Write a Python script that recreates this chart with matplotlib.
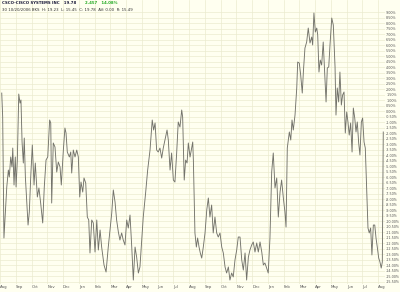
import matplotlib
matplotlib.use("Agg")
import matplotlib.pyplot as plt
import numpy as np

# months since start (Aug = 0) and percent change
months = [0.11, 0.17, 0.25, 0.43, 0.53, 0.59, 0.68, 0.76, 0.81, 0.89, 0.97, 1.02, 1.10, 1.19, 1.27,
          1.33, 1.40, 1.48, 1.54, 1.61, 1.69, 1.78, 1.86, 1.95, 2.05, 2.16, 2.24, 2.37, 2.47, 2.58,
          2.71, 2.81, 2.92, 3.03, 3.15, 3.22, 3.28, 3.38, 3.49, 3.60, 3.70, 3.81, 3.89, 4.02, 4.12,
          4.19, 4.27, 4.40, 4.49, 4.55, 4.65, 4.76, 4.87, 4.97, 5.06, 5.14, 5.25, 5.33, 5.44, 5.54,
          5.63, 5.71, 5.82, 5.92, 6.03, 6.14, 6.24, 6.35, 6.45, 6.60, 6.73, 6.87, 7.09, 7.19, 7.30,
          7.40, 7.51, 7.61, 7.72, 7.82, 7.93, 8.04, 8.14, 8.25, 8.36, 8.46, 8.57, 8.67, 8.78, 8.88,
          8.99, 9.09, 9.24, 9.37, 9.52, 9.66, 9.75, 9.84, 9.94, 10.04, 10.15, 10.26, 10.36, 10.47,
          10.60, 10.68, 10.79, 10.89, 11.00, 11.10, 11.21, 11.31, 11.42, 11.53, 11.59, 11.69, 11.78,
          11.87, 11.95, 12.06, 12.16, 12.23, 12.27, 12.37, 12.46, 12.54, 12.63, 12.71, 12.80, 12.90,
          13.01, 13.12, 13.22, 13.32, 13.43, 13.53, 13.64, 13.75, 13.85, 13.96, 14.07, 14.17, 14.28,
          14.38, 14.49, 14.59, 14.70, 14.80, 14.91, 15.02, 15.12, 15.23, 15.34, 15.44, 15.55, 15.65,
          15.76, 15.86, 15.97, 16.07, 16.18, 16.29, 16.39, 16.50, 16.61, 16.71, 16.81, 16.92, 17.02,
          17.13, 17.24, 17.34, 17.45, 17.56, 17.66, 17.77, 17.87, 17.98, 18.08, 18.15, 18.23, 18.36,
          18.45, 18.53, 18.61, 18.72, 18.83, 18.89, 18.99, 19.08, 19.18, 19.25, 19.35, 19.46, 19.56,
          19.67, 19.78, 19.84, 19.92, 20.01, 20.10, 20.16, 20.24, 20.32, 20.41, 20.51, 20.62, 20.69,
          20.77, 20.86, 20.94, 21.05, 21.15, 21.26, 21.32, 21.40, 21.49, 21.57, 21.66, 21.74, 21.83,
          21.91, 22.00, 22.08, 22.16, 22.25, 22.34, 22.42, 22.51, 22.59, 22.67, 22.76, 22.84, 22.93,
          23.01, 23.10, 23.18, 23.27, 23.35, 23.43, 23.52, 23.60, 23.69, 23.78, 23.86, 23.94, 24.03,
          24.11, 24.19, 24.26, 24.32]
pct = [1.66, -0.52, -11.52, -6.88, -5.34, -5.97, -4.15, -5.06, -3.34, -6.70, -4.15, -6.88, -4.43,
       1.57, 0.75, 1.03, -2.79, -4.70, -2.43, -5.97, -8.06, -10.34, -9.15, -5.97, -3.06, -6.70,
       -4.70, -7.79, -6.97, -8.34, -10.15, -6.88, -4.43, -4.15, -0.79, -1.06, -8.34, -2.88, -3.25,
       -5.52, -4.61, -5.06, -6.70, -3.52, -1.52, -1.97, -3.70, -4.15, -3.70, -5.61, -3.52, -4.15,
       -3.52, -4.15, -7.79, -6.43, -7.34, -6.06, -6.52, -9.61, -9.88, -12.88, -9.88, -10.15, -12.79,
       -9.88, -12.61, -10.79, -12.34, -13.97, -14.61, -12.34, -9.25, -7.15, -8.25, -9.88, -10.97,
       -11.70, -11.06, -11.70, -12.15, -9.88, -10.61, -9.43, -12.34, -15.34, -12.34, -13.25, -14.70,
       -14.15, -11.70, -9.61, -7.42, -5.34, -3.52, -0.79, -1.70, -1.06, -3.52, -3.70, -3.34, -4.25,
       -3.34, -2.61, -1.70, -2.61, -5.34, -3.79, -6.25, -6.43, -3.79, -0.97, -1.43, 0.12, -0.52,
       -6.25, -4.43, -4.70, -2.88, -4.15, -3.34, -2.79, -4.43, -11.06, -12.34, -11.52, -12.34,
       -12.88, -13.34, -12.34, -11.06, -8.97, -7.88, -9.61, -8.52, -11.06, -9.61, -11.06, -11.43,
       -11.06, -12.34, -12.88, -14.15, -14.70, -14.15, -15.34, -14.70, -15.06, -13.52, -12.61,
       -11.43, -11.43, -13.52, -14.43, -12.88, -15.34, -13.25, -12.61, -12.15, -11.88, -12.79,
       -11.97, -12.79, -11.88, -12.79, -13.97, -13.79, -14.25, -14.70, -11.52, -5.52, -3.79, -6.97,
       -6.06, -9.61, -7.34, -6.25, -7.88, -9.15, -10.52, -3.34, -1.88, -2.61, -0.79, -1.70, -0.34,
       2.12, 4.48, 4.39, 3.30, 1.66, 3.57, 5.75, 6.30, 7.57, 6.21, 6.75, 6.03, 8.94, 7.21, 7.57,
       6.94, 3.57, 4.66, 4.21, 6.30, 3.03, 0.85, 3.94, 4.03, 6.03, 8.48, 7.84, 4.03, -0.34, 2.12,
       0.85, 3.57, 0.57, 1.48, 1.76, -1.97, -0.06, -0.97, -2.16, -1.06, -3.70, 0.30, -0.61, -1.88,
       -0.97, -2.88, -3.97, -0.97, -0.61, -2.79, -3.34, -7.34, -10.61, -11.06, -10.61, -13.06,
       -10.34, -10.34, -11.52, -12.34, -13.34, -13.70, -14.25, -13.70, -1.88]

month_labels = ["Aug", "Sep", "Oct", "Nov", "Dec", "Jan", "Feb", "Mar", "Apr", "May", "Jun", "Jul",
                "Aug", "Sep", "Oct", "Nov", "Dec", "Jan", "Feb", "Mar", "Apr", "May", "Jun", "Jul", "Aug"]
pct_ticks = np.arange(9.0, -15.51, -0.5)

bg = "#fffff0"
grid_col = "#ebebcf"

fig = plt.figure(figsize=(4, 2.92), dpi=100, facecolor=bg)
ax = fig.add_axes([0, 1 - 284 / 292, 385 / 400, 284 / 292])
ax.set_facecolor(bg)

ax.plot(months, pct, color="#73736b", linewidth=0.65)

ax.set_xlim(0, 24.43)
ax.set_ylim(-15.7, 10.12)

ax.set_xticks(range(len(month_labels)))
ax.set_xticklabels(month_labels, fontsize=2.8, color="#555555", ha="left")
ax.set_yticks(pct_ticks)
ax.set_yticklabels(["%.2f%%" % v for v in pct_ticks], fontsize=2.4, color="#555555")
ax.yaxis.tick_right()
ax.tick_params(axis="both", length=0, pad=0.8)
ax.grid(True, color=grid_col, linewidth=0.5)
ax.set_axisbelow(True)
for s in ax.spines.values():
    s.set_visible(False)

# header text
ax.text(0.005, 0.995, "CSCO-CISCO SYSTEMS INC   19.78", transform=ax.transAxes,
        fontsize=2.8, color="#1a1a3a", va="top", ha="left", fontweight="bold")
ax.text(0.22, 0.995, "2.457   14.08%", transform=ax.transAxes,
        fontsize=2.8, color="#22aa22", va="top", ha="left", fontweight="bold")
ax.text(0.005, 0.972, "30 10/20/2006 BKS  H: 19.23  L: 15.45  C: 19.78  AV: 0.00  R: 15.49",
        transform=ax.transAxes, fontsize=2.8, color="#333333", va="top", ha="left")

fig.savefig("out.png", dpi=100, facecolor=bg)
